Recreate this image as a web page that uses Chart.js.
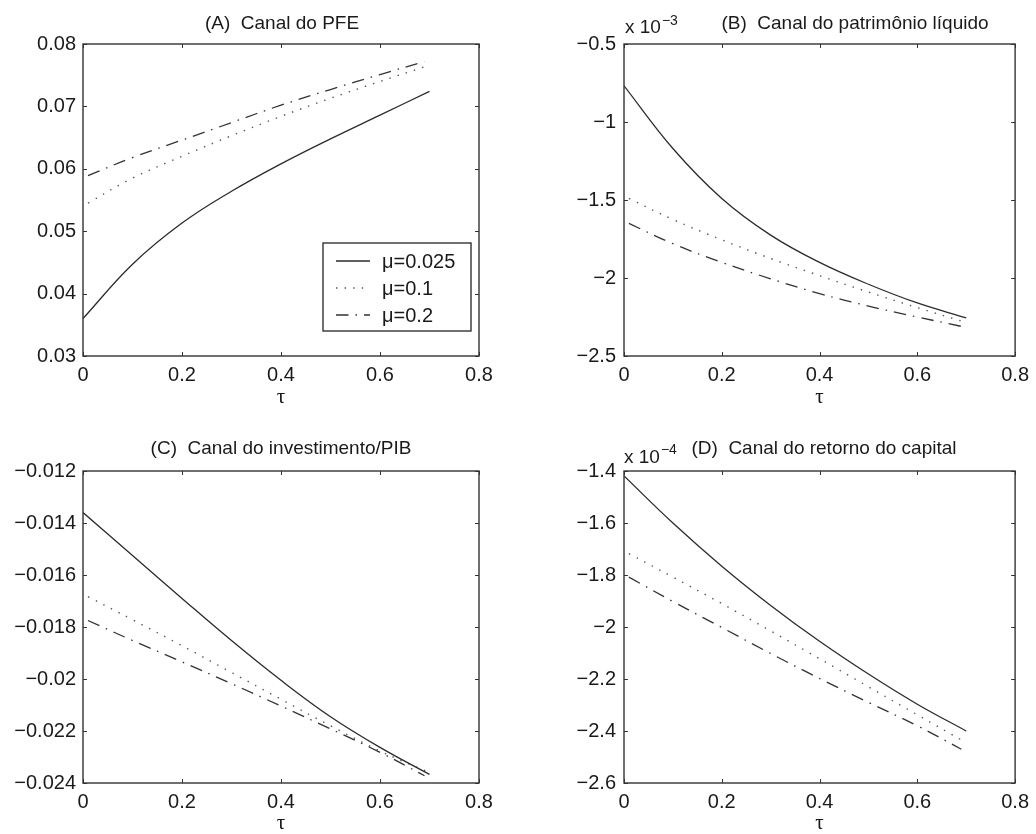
<!DOCTYPE html>
<html><head><meta charset="utf-8">
<script src="https://cdn.jsdelivr.net/npm/chart.js@4.4.1/dist/chart.umd.min.js"></script>
<style>
html,body{margin:0;padding:0;background:#fff;}
#wrap{position:relative;width:1036px;height:834px;overflow:hidden;background:#fff;}
canvas{position:absolute;display:block;}
</style></head><body>
<div id="wrap">
<canvas id="cA" width="518" height="414" style="left:0;top:0"></canvas>
<canvas id="cB" width="518" height="414" style="left:518px;top:0"></canvas>
<canvas id="cC" width="518" height="420" style="left:0;top:414px"></canvas>
<canvas id="cD" width="518" height="420" style="left:518px;top:414px"></canvas>
</div>
<script>
// ---------- data ----------
const seriesNames = ['\u03bc=0.025', '\u03bc=0.1', '\u03bc=0.2'];
const tauSolid = [0, 0.1, 0.2, 0.3, 0.4, 0.5, 0.6, 0.7];
const tauDot   = [0.01, 0.1, 0.2, 0.3, 0.4, 0.5, 0.6, 0.7];
const tauDash  = [0.01, 0.1, 0.2, 0.3, 0.4, 0.5, 0.6, 0.69];
const xTicks = [0, 0.2, 0.4, 0.6, 0.8];
const xTickLabels = ['0', '0.2', '0.4', '0.6', '0.8'];

// (A) Canal do PFE
const pfeSolid = [0.0360, 0.0447, 0.0513, 0.0564, 0.0608, 0.0648, 0.0686, 0.0724];
const pfeDot   = [0.0545, 0.0585, 0.0620, 0.0653, 0.0684, 0.0713, 0.0740, 0.0766];
const pfeDash  = [0.0589, 0.0618, 0.0646, 0.0674, 0.0702, 0.0727, 0.0751, 0.0772];
const yTicksA = [0.03, 0.04, 0.05, 0.06, 0.07, 0.08];
const yLabelsA = ['0.03', '0.04', '0.05', '0.06', '0.07', '0.08'];

// (B) Canal do patrimônio líquido  (x 10^-3)
const patSolid = [-0.768, -1.17, -1.49, -1.725, -1.90, -2.04, -2.16, -2.255];
const patDot   = [-1.49, -1.625, -1.755, -1.875, -1.985, -2.09, -2.19, -2.285];
const patDash  = [-1.65, -1.78, -1.90, -2.005, -2.10, -2.18, -2.25, -2.31];
const yTicksB = [-2.5, -2, -1.5, -1, -0.5];
const yLabelsB = ['\u22122.5', '\u22122', '\u22121.5', '\u22121', '\u22120.5'];

// (C) Canal do investimento/PIB
const invSolid = [-0.0136, -0.01525, -0.0169, -0.01852, -0.02005, -0.02145, -0.02263, -0.02367];
const invDot   = [-0.01683, -0.01772, -0.01872, -0.01975, -0.02078, -0.0218, -0.02277, -0.0236];
const invDash  = [-0.01775, -0.01852, -0.01934, -0.02018, -0.02104, -0.02192, -0.02282, -0.02372];
const yTicksC = [-0.024, -0.022, -0.02, -0.018, -0.016, -0.014, -0.012];
const yLabelsC = ['\u22120.024', '\u22120.022', '\u22120.02', '\u22120.018', '\u22120.016', '\u22120.014', '\u22120.012'];

// (D) Canal do retorno do capital  (x 10^-4)
const retSolid = [-1.419, -1.60, -1.766, -1.917, -2.055, -2.181, -2.297, -2.40];
const retDot   = [-1.718, -1.808, -1.91, -2.015, -2.122, -2.23, -2.338, -2.445];
const retDash  = [-1.808, -1.902, -2.002, -2.102, -2.198, -2.29, -2.38, -2.47];
const yTicksD = [-2.6, -2.4, -2.2, -2, -1.8, -1.6, -1.4];
const yLabelsD = ['\u22122.6', '\u22122.4', '\u22122.2', '\u22122', '\u22121.8', '\u22121.6', '\u22121.4'];

// ---------- styles ----------
const TXT = '#1a1a1a';
const FONT = '"Liberation Sans", Arial, Helvetica, sans-serif';
const lineStyles = [
  {borderColor:'#2b2b2b', borderWidth:1.3, borderDash:[]},
  {borderColor:'#555555', borderWidth:1.4, borderDash:[1.4, 7.2]},
  {borderColor:'#333333', borderWidth:1.3, borderDash:[12.5, 7, 1.5, 7]}
];

const deco = {
  id: 'deco',
  afterDraw(chart, args, o) {
    const ctx = chart.ctx, a = chart.chartArea, xs = chart.scales.x, ys = chart.scales.y;
    ctx.save();
    ctx.strokeStyle = '#333';
    ctx.lineWidth = 1.4;
    ctx.setLineDash([]);
    ctx.strokeRect(a.left, a.top, a.right - a.left, a.bottom - a.top);
    ctx.lineWidth = 1;
    const tl = 4;
    const seg = (x1, y1, x2, y2) => { ctx.beginPath(); ctx.moveTo(x1, y1); ctx.lineTo(x2, y2); ctx.stroke(); };
    xs.ticks.forEach(t => { const x = Math.round(xs.getPixelForValue(t.value)) + 0.5; seg(x, a.bottom, x, a.bottom - tl); seg(x, a.top, x, a.top + tl); });
    ys.ticks.forEach(t => { const y = Math.round(ys.getPixelForValue(t.value)) + 0.5; seg(a.left, y, a.left + tl, y); seg(a.right, y, a.right - tl, y); });
    // title
    ctx.fillStyle = TXT;
    ctx.font = '19px ' + FONT;
    ctx.textAlign = 'center';
    ctx.textBaseline = 'alphabetic';
    ctx.fillText(o.title, o.titleX, o.titleY);
    // exponent
    if (o.expo) {
      ctx.textAlign = 'left';
      ctx.font = '19px ' + FONT;
      ctx.fillText('x 10', o.expo.x, o.expo.y);
      const w = ctx.measureText('x 10').width;
      ctx.font = '14px ' + FONT;
      ctx.fillText(o.expo.p, o.expo.x + w + 1, o.expo.py);
    }
    // legend
    if (o.legend) {
      const L = o.legend;
      ctx.fillStyle = '#fff';
      ctx.fillRect(L.x, L.y, L.w, L.h);
      ctx.strokeStyle = '#333';
      ctx.lineWidth = 1.4;
      ctx.strokeRect(L.x, L.y, L.w, L.h);
      chart.data.datasets.forEach((ds, i) => {
        const yy = L.rows[i];
        ctx.strokeStyle = ds.borderColor;
        ctx.lineWidth = ds.borderWidth;
        ctx.setLineDash(ds.borderDash || []);
        seg(L.lx1, yy, L.lx2, yy);
        ctx.setLineDash([]);
        ctx.fillStyle = TXT;
        ctx.font = '20px ' + FONT;
        ctx.textAlign = 'left';
        ctx.textBaseline = 'middle';
        ctx.fillText(ds.label, L.tx, yy + 1);
      });
    }
    ctx.restore();
  }
};

function pts(xs, ys) { return xs.map((x, i) => ({x: x, y: ys[i]})); }

function makeChart(id, P) {
  const datasets = [
    [tauSolid, P.s], [tauDot, P.d], [tauDash, P.dd]
  ].map((pair, i) => Object.assign({
    label: seriesNames[i],
    data: pts(pair[0], pair[1]),
    pointRadius: 0,
    fill: false,
    tension: 0.4,
    borderCapStyle: 'butt'
  }, lineStyles[i]));
  return new Chart(document.getElementById(id), {
    type: 'line',
    data: {datasets: datasets},
    plugins: [deco],
    options: {
      responsive: false, animation: false, devicePixelRatio: 1,
      layout: {padding: {top: P.top, right: P.right, left: 0, bottom: 0}},
      plugins: {
        legend: {display: false}, tooltip: {enabled: false}, title: {display: false},
        deco: P.deco
      },
      scales: {
        x: {
          type: 'linear', min: 0, max: 0.8,
          grid: {display: false, drawTicks: false}, border: {display: false},
          afterBuildTicks: s => { s.ticks = xTicks.map(v => ({value: v})); },
          afterFit: s => { s.height = P.xH; },
          ticks: {padding: 7, color: TXT, font: {family: FONT, size: 20}, maxRotation: 0, autoSkip: false,
                  callback: (v, i) => xTickLabels[i]},
          title: {display: true, text: '\u03c4', color: TXT,
                  font: {family: '"Liberation Serif", "DejaVu Serif", serif', size: 21, lineHeight: 1},
                  padding: {top: 0, bottom: P.tauPad}}
        },
        y: {
          type: 'linear', min: P.ymin, max: P.ymax,
          grid: {display: false, drawTicks: false}, border: {display: false},
          afterBuildTicks: s => { s.ticks = P.yt.map(v => ({value: v})); },
          afterFit: s => { s.width = P.yW; },
          ticks: {padding: P.yPad, color: TXT, font: {family: FONT, size: 20}, autoSkip: false,
                  callback: (v, i) => P.yl[i]}
        }
      }
    }
  });
}

makeChart('cA', {
  s: pfeSolid, d: pfeDot, dd: pfeDash, ymin: 0.03, ymax: 0.08, yt: yTicksA, yl: yLabelsA,
  top: 44, right: 39, yW: 83, xH: 58, yPad: 7, tauPad: 6,
  deco: {title: '(A)  Canal do PFE', titleX: 282, titleY: 29,
         legend: {x: 323, y: 243, w: 148, h: 88, lx1: 336, lx2: 370, tx: 382, rows: [261, 288, 315]}}
});
makeChart('cB', {
  s: patSolid, d: patDot, dd: patDash, ymin: -2.5, ymax: -0.5, yt: yTicksB, yl: yLabelsB,
  top: 44, right: 17, yW: 106, xH: 58, yPad: 8, tauPad: 6,
  deco: {title: '(B)  Canal do patrim\u00f4nio l\u00edquido', titleX: 337, titleY: 29,
         expo: {x: 107, y: 33, p: '\u22123', py: 25}}
});
makeChart('cC', {
  s: invSolid, d: invDot, dd: invDash, ymin: -0.024, ymax: -0.012, yt: yTicksC, yl: yLabelsC,
  top: 57, right: 39, yW: 83, xH: 51, yPad: 7, tauPad: 0,
  deco: {title: '(C)  Canal do investimento/PIB', titleX: 281, titleY: 40}
});
makeChart('cD', {
  s: retSolid, d: retDot, dd: retDash, ymin: -2.6, ymax: -1.4, yt: yTicksD, yl: yLabelsD,
  top: 57, right: 17, yW: 106, xH: 51, yPad: 8, tauPad: 0,
  deco: {title: '(D)  Canal do retorno do capital', titleX: 306, titleY: 40,
         expo: {x: 106, y: 49, p: '\u22124', py: 40}}
});
</script>
</body></html>
